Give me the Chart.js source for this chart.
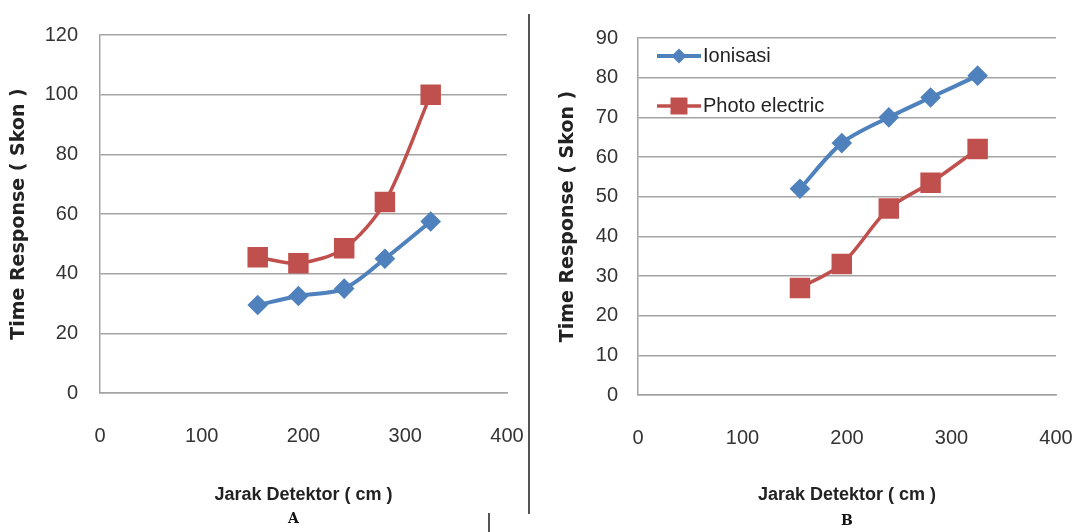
<!DOCTYPE html>
<html lang="id">
<head>
<meta charset="utf-8">
<title>Time Response vs Jarak Detektor</title>
<script src="https://cdn.jsdelivr.net/npm/chart.js@4.4.1/dist/chart.umd.min.js"></script>
<style>
  body { margin: 0; background: #fff; width: 1076px; height: 532px; overflow: hidden; position: relative; }
  .box { position: absolute; top: 0; height: 532px; }
  #boxA { left: 0; width: 530px; }
  #boxB { left: 530px; width: 546px; }
  .divider { position: absolute; background: #555; width: 2px; }
  .label { position: absolute; font: bold 14px 'DejaVu Serif', serif; color: #111; }
</style>
</head>
<body>
<div class="box" id="boxA"><canvas id="chartA"></canvas></div>
<div class="box" id="boxB"><canvas id="chartB"></canvas></div>
<div class="divider" style="left:528px; top:14px; height:500px"></div>
<div class="divider" style="left:488px; top:513px; height:19px"></div>
<div class="label" style="left:288px; top:510px">A</div>
<div class="label" style="left:841px; top:512px">B</div>
<script>
// Data
const seriesNames = ['Ionisasi', 'Photo electric']
const jarak = [155, 195, 240, 280, 325]
const ionisasiA = [29.5, 32.5, 35, 45, 57.5]
const photoA = [45.5, 43.5, 48.5, 64, 100]
const ionisasiB = [52, 63.5, 70, 75, 80.5]
const photoB = [27, 33, 47, 53.5, 62]
const xTicks = [0, 100, 200, 300, 400]
const yTicksA = [0, 20, 40, 60, 80, 100, 120]
const yTicksB = [0, 10, 20, 30, 40, 50, 60, 70, 80, 90]

// Estilos
const BLUE = '#4f81bd'
const RED = '#c0504d'
const GRID = '#a3a3a3'
const FAMILY = "'Liberation Sans', 'Noto Sans', sans-serif"
const tickFont = { family: FAMILY, size: 20 }

const toPoints = (values) => values.map((v, i) => ({ x: jarak[i], y: v }))

// Marker como en Excel (rombo / cuadrado)
function drawMarker(ctx, ds, x, y) {
  const r = ds.pointRadius
  ctx.fillStyle = ds.pointBackgroundColor
  ctx.beginPath()
  if (ds.pointStyle === 'rect') {
    const s = r * Math.SQRT1_2
    ctx.rect(x - s, y - s, 2 * s, 2 * s)
  } else {
    ctx.moveTo(x, y - r)
    ctx.lineTo(x + r, y)
    ctx.lineTo(x, y + r)
    ctx.lineTo(x - r, y)
    ctx.closePath()
  }
  ctx.fill()
}

// Leyenda dentro del área del gráfico
const legendInside = {
  id: 'legendInside',
  afterDraw(chart, args, opts) {
    if (!opts.show) return
    const { ctx, chartArea } = chart
    chart.data.datasets.forEach((ds, i) => {
      const y = chartArea.top + 18 + i * 50
      const x0 = chartArea.left + 19
      const x1 = x0 + 44
      ctx.save()
      ctx.strokeStyle = ds.borderColor
      ctx.lineWidth = ds.borderWidth
      ctx.beginPath()
      ctx.moveTo(x0, y)
      ctx.lineTo(x1, y)
      ctx.stroke()
      drawMarker(ctx, ds, (x0 + x1) / 2, y)
      ctx.fillStyle = '#222'
      ctx.font = '20px ' + FAMILY
      ctx.textBaseline = 'middle'
      ctx.fillText(ds.label, x1 + 2, y)
      ctx.restore()
    })
  },
}

function makeChart(id, ionisasi, photo, yTicks, geo) {
  const ctx = document.getElementById(id).getContext('2d')
  return new Chart(ctx, {
    type: 'line',
    data: {
      datasets: [
        {
          label: seriesNames[0],
          data: toPoints(ionisasi),
          borderColor: BLUE,
          backgroundColor: BLUE,
          pointBackgroundColor: BLUE,
          pointBorderColor: BLUE,
          borderWidth: 4,
          pointStyle: 'rectRot',
          pointRadius: 7.5,
          tension: 0.3,
        },
        {
          label: seriesNames[1],
          data: toPoints(photo),
          borderColor: RED,
          backgroundColor: RED,
          pointBackgroundColor: RED,
          pointBorderColor: RED,
          borderWidth: 3.5,
          pointStyle: 'rect',
          pointRadius: 12,
          tension: 0.3,
        },
      ],
    },
    options: {
      responsive: true,
      maintainAspectRatio: false,
      animation: false,
      layout: {
        padding: { top: geo.top, right: geo.right, bottom: geo.bottom, left: 0 },
      },
      plugins: {
        legend: { display: false },
        tooltip: { enabled: false },
        legendInside: { show: geo.legend },
      },
      scales: {
        x: {
          type: 'linear',
          min: xTicks[0],
          max: xTicks[xTicks.length - 1],
          afterBuildTicks: (scale) => {
            scale.ticks = xTicks.map((v) => ({ value: v }))
          },
          afterFit: (scale) => {
            scale.height = geo.xHeight
            scale.paddingLeft = 0
            scale.paddingRight = 0
          },
          grid: { display: false },
          border: { display: true, color: GRID, width: 1.5 },
          ticks: { font: tickFont, color: '#333', padding: geo.xPad, maxRotation: 0 },
          title: {
            display: true,
            text: 'Jarak Detektor ( cm )',
            color: '#222',
            font: { family: FAMILY, size: 18, weight: 'bold' },
            padding: { top: 0, bottom: 1 },
          },
        },
        y: {
          min: yTicks[0],
          max: yTicks[yTicks.length - 1],
          afterBuildTicks: (scale) => {
            scale.ticks = yTicks.map((v) => ({ value: v }))
          },
          afterFit: (scale) => {
            scale.width = geo.yWidth
            scale.paddingTop = 0
            scale.paddingBottom = 0
          },
          grid: { color: GRID, lineWidth: 1.5, drawTicks: false },
          border: { display: true, color: GRID, width: 1.5 },
          ticks: { font: tickFont, color: '#333', padding: geo.yPad },
          title: {
            display: true,
            text: 'Time Response ( Skon )',
            color: '#222',
            font: { family: "'DejaVu Sans', sans-serif", size: 19, weight: 'bold' },
            padding: { top: geo.yTitlePad, bottom: 0 },
          },
        },
      },
    },
    plugins: [legendInside],
  })
}

// Gráfico A
makeChart('chartA', ionisasiA, photoA, yTicksA, {
  top: 35, right: 23, bottom: 25, xHeight: 114, yWidth: 100,
  xPad: 23, yPad: 22, yTitlePad: 8, legend: false,
})

// Gráfico B
makeChart('chartB', ionisasiB, photoB, yTicksB, {
  top: 38, right: 20, bottom: 25, xHeight: 112, yWidth: 108,
  xPad: 23, yPad: 20, yTitlePad: 27, legend: true,
})
</script>
</body>
</html>
